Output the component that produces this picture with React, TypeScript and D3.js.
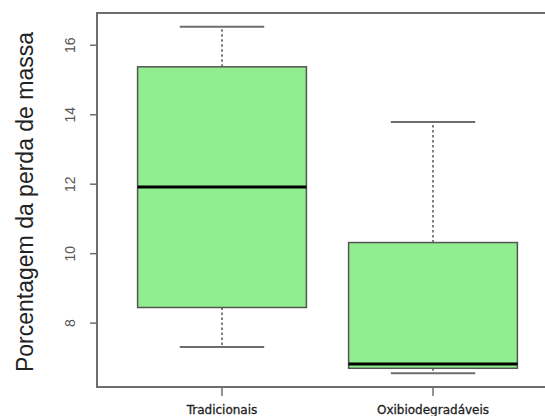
import React from "react";
import * as d3 from "d3";

// Group names and five-number summaries (min, Q1, median, Q3, max)
const categories = ["Tradicionais", "Oxibiodegradáveis"];
const mins = [7.31, 6.56];
const q1s = [8.45, 6.70];
const medians = [11.92, 6.82];
const q3s = [15.38, 10.32];
const maxs = [16.53, 13.79];
const yTicks = [8, 10, 12, 14, 16];
const yTitle = "Porcentagem da perda de massa";

const W = 545;
const H = 416;
const frame = { left: 97, top: 13, right: 560, bottom: 387 };

export default function App() {
  const lo = d3.min(mins) as number;
  const hi = d3.max(maxs) as number;
  const pad = (hi - lo) * 0.04;
  const y = d3
    .scaleLinear()
    .domain([lo - pad, hi + pad])
    .range([frame.bottom, frame.top]);
  const x = d3.scaleLinear().domain([1, 2]).range([222, 433]);
  const unit = x(2) - x(1);
  const boxW = unit * 0.8;
  const capW = boxW / 2;

  const boxes = categories.map((c, i) => ({
    name: c,
    cx: x(i + 1),
    min: mins[i],
    q1: q1s[i],
    med: medians[i],
    q3: q3s[i],
    max: maxs[i],
  }));

  const grey = "#6e6e6e";

  return (
    <svg
      width={W}
      height={H}
      style={{ position: "absolute", left: 0, top: 0, background: "#fff" }}
    >
      {boxes.map((b) => (
        <g key={b.name}>
          {/* whiskers */}
          <line x1={b.cx} x2={b.cx} y1={y(b.q3)} y2={y(b.max)} stroke="#555" strokeWidth={1.5} strokeDasharray="2.5,2.5" />
          <line x1={b.cx} x2={b.cx} y1={y(b.q1)} y2={y(b.min)} stroke="#555" strokeWidth={1.5} strokeDasharray="2.5,2.5" />
          <line x1={b.cx - capW / 2} x2={b.cx + capW / 2} y1={y(b.max)} y2={y(b.max)} stroke={grey} strokeWidth={2} />
          <line x1={b.cx - capW / 2} x2={b.cx + capW / 2} y1={y(b.min)} y2={y(b.min)} stroke={grey} strokeWidth={2} />
          {/* box */}
          <rect
            x={b.cx - boxW / 2}
            y={y(b.q3)}
            width={boxW}
            height={y(b.q1) - y(b.q3)}
            fill="#90EE90"
            stroke="#555"
            strokeWidth={1.5}
          />
          {/* median */}
          <line x1={b.cx - boxW / 2} x2={b.cx + boxW / 2} y1={y(b.med)} y2={y(b.med)} stroke="#000" strokeWidth={3} />
        </g>
      ))}

      {/* plot frame */}
      <rect
        x={frame.left}
        y={frame.top}
        width={frame.right - frame.left}
        height={frame.bottom - frame.top}
        fill="none"
        stroke={grey}
        strokeWidth={2}
      />

      {/* y axis ticks and labels */}
      {yTicks.map((t) => (
        <g key={t}>
          <line x1={frame.left - 7} x2={frame.left} y1={y(t)} y2={y(t)} stroke={grey} strokeWidth={1.5} />
          <text
            transform={`translate(75,${y(t)}) rotate(-90)`}
            textAnchor="middle"
            fontFamily="Liberation Sans, Arial, sans-serif"
            fontSize={14}
            fill="#555"
          >
            {t}
          </text>
        </g>
      ))}

      {/* x axis ticks and labels */}
      {boxes.map((b) => (
        <g key={"x" + b.name}>
          <line x1={b.cx} x2={b.cx} y1={frame.bottom} y2={frame.bottom + 9} stroke={grey} strokeWidth={1.5} />
          <text
            x={b.cx}
            y={414}
            textAnchor="middle"
            fontFamily="DejaVu Sans, sans-serif"
            fontSize={12}
            fill="#222"
            stroke="#222"
            strokeWidth={0.3}
          >
            {b.name}
          </text>
        </g>
      ))}

      {/* y axis title */}
      <text
        transform={`translate(33,${(frame.top + frame.bottom) / 2 + 2}) rotate(-90)`}
        textAnchor="middle"
        fontFamily="Liberation Sans, Arial, sans-serif"
        fontSize={23}
        fill="#222"
      >
        {yTitle}
      </text>
    </svg>
  );
}
